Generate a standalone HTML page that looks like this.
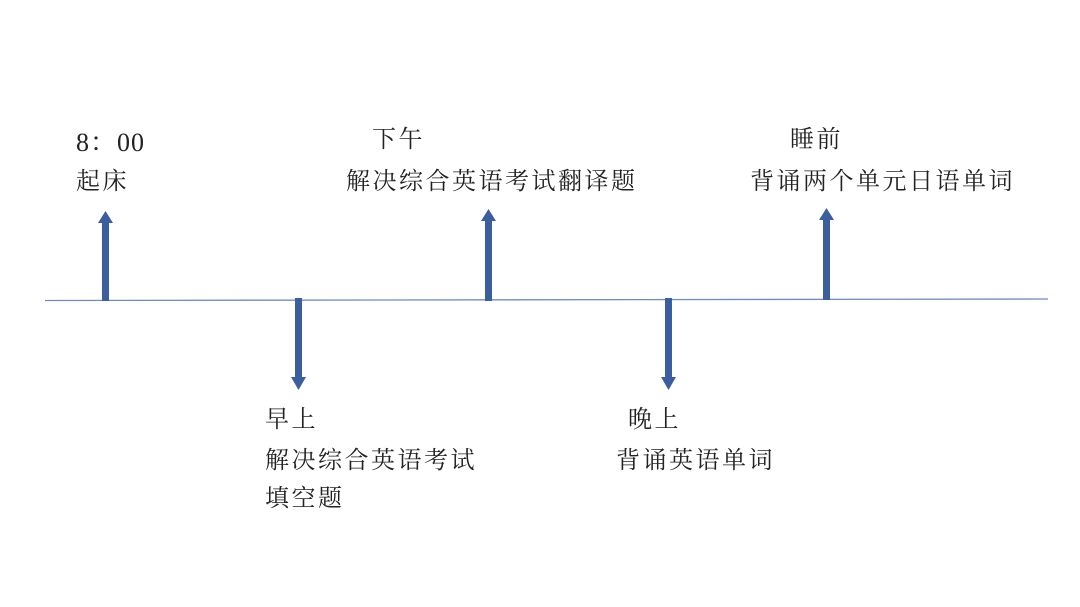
<!DOCTYPE html>
<html><head><meta charset="utf-8"><style>
body{margin:0;width:1080px;height:607px;background:#fff;position:relative;overflow:hidden}
.t{position:absolute;font-family:"Liberation Serif","Noto Serif CJK SC",serif;font-size:24px;letter-spacing:2.5px;color:#222;white-space:nowrap;line-height:1}
</style></head><body>
<svg width="1080" height="607" style="position:absolute;left:0;top:0">
<line x1="45" y1="300.5" x2="1048" y2="299" stroke="#6d8cc0" stroke-width="1.3"/>
<g fill="#3b5e9e">
<rect x="102" y="222" width="7" height="79"/><polygon points="98,223 113,223 105.5,211"/>
<rect x="295" y="298" width="7" height="80"/><polygon points="291,377 306,377 298.5,390"/>
<rect x="485" y="220" width="7" height="81"/><polygon points="481,221 496,221 488.5,209"/>
<rect x="665" y="298" width="7" height="80"/><polygon points="661,377 676,377 668.5,390"/>
<rect x="823" y="219" width="7" height="81"/><polygon points="819,220 834,220 826.5,208"/>
</g>
</svg>
<div class="t" style="left:76px;top:130px;font-size:26px;letter-spacing:1px">8：00</div>
<div class="t" style="left:76px;top:170px">起床</div>
<div class="t" style="left:372px;top:128px">下午</div>
<div class="t" style="left:346px;top:170px">解决综合英语考试翻译题</div>
<div class="t" style="left:790px;top:128px">睡前</div>
<div class="t" style="left:750px;top:170px">背诵两个单元日语单词</div>
<div class="t" style="left:265px;top:408px">早上</div>
<div class="t" style="left:265px;top:449px">解决综合英语考试</div>
<div class="t" style="left:265px;top:487px">填空题</div>
<div class="t" style="left:628px;top:408px">晚上</div>
<div class="t" style="left:616px;top:449px">背诵英语单词</div>
</body></html>
